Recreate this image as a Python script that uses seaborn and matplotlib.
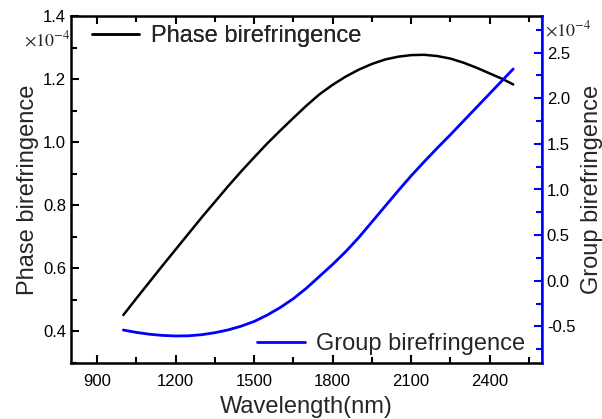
import matplotlib
matplotlib.use("Agg")
import matplotlib.pyplot as plt
import seaborn as sns
import pandas as pd
from matplotlib.ticker import MultipleLocator, FormatStrFormatter
from matplotlib.lines import Line2D

sns.set_theme(style="ticks")
plt.rcParams['font.family'] = ['Liberation Sans', 'DejaVu Sans']

wavelength = [1000, 1050, 1100, 1150, 1200, 1250, 1300, 1350, 1400, 1450,
              1500, 1550, 1600, 1650, 1700, 1750, 1800, 1850, 1900, 1950,
              2000, 2050, 2100, 2150, 2200, 2250, 2300, 2350, 2400, 2450, 2490]
phase_biref = [0.452, 0.505, 0.557, 0.609, 0.660, 0.711, 0.762, 0.811, 0.860, 0.907,
               0.952, 0.996, 1.037, 1.077, 1.116, 1.152, 1.182, 1.208, 1.230, 1.248,
               1.262, 1.271, 1.276, 1.277, 1.273, 1.265, 1.252, 1.236, 1.218, 1.200, 1.183]
group_biref = [-0.539, -0.565, -0.585, -0.598, -0.604, -0.602, -0.590, -0.568, -0.538, -0.497,
               -0.445, -0.375, -0.292, -0.195, -0.080, 0.050, 0.180, 0.320, 0.475, 0.645,
               0.815, 0.985, 1.150, 1.305, 1.455, 1.600, 1.750, 1.900, 2.050, 2.200, 2.320]

df = pd.DataFrame({"wl": wavelength, "phase": phase_biref, "group": group_biref})

fig = plt.figure(figsize=(6.02, 4.19), dpi=100)
ax = fig.add_axes([71/602, 1-363/419, (542-71)/602, (363-16)/419])
ax2 = ax.twinx()

sns.lineplot(data=df, x="wl", y="phase", ax=ax, color="black", linewidth=1.8)
sns.lineplot(data=df, x="wl", y="group", ax=ax2, color="#0000ff", linewidth=2.0)

ax.set_xlim(800, 2600)
ax.set_ylim(0.3, 1.4)
ax2.set_ylim(-0.9, 2.9)

ax.set_xticks([900, 1200, 1500, 1800, 2100, 2400])
ax.xaxis.set_minor_locator(MultipleLocator(150))
ax.yaxis.set_major_locator(MultipleLocator(0.2))
ax.yaxis.set_minor_locator(MultipleLocator(0.1))
ax.yaxis.set_major_formatter(FormatStrFormatter('%.1f'))
ax2.set_yticks([-0.5, 0.0, 0.5, 1.0, 1.5, 2.0, 2.5])
ax2.yaxis.set_minor_locator(MultipleLocator(0.25))
ax2.yaxis.set_major_formatter(FormatStrFormatter('%.1f'))

ax.tick_params(axis='both', which='both', direction='in', top=True, right=False,
               labelsize=12, colors='black', width=1.5)
ax.tick_params(axis='x', which='both', pad=8)
ax.tick_params(which='major', length=6)
ax.tick_params(which='minor', length=4)
ax2.tick_params(axis='y', which='both', direction='in', color='#0000ff',
                labelcolor='black', labelsize=12, width=1.5)
ax2.tick_params(which='major', length=6)
ax2.tick_params(which='minor', length=4)

for s in ['left', 'bottom', 'top']:
    ax.spines[s].set_linewidth(1.8)
    ax.spines[s].set_color('black')
ax2.spines['right'].set_color('#0000ff')
ax2.spines['right'].set_linewidth(1.8)
for s in ['left', 'bottom', 'top']:
    ax2.spines[s].set_visible(False)

ax.set_xlabel("Wavelength(nm)", fontsize=17, labelpad=5)
ax.set_ylabel("Phase birefringence", fontsize=17, labelpad=3)
ax2.set_ylabel("Group birefringence", fontsize=17, labelpad=4)

fig.text(24/602, 1-40/419, r'$\times10^{-4}$', fontsize=13, math_fontfamily='stix',
         ha='left', va='center')
fig.text(545/602, 1-30/419, r'$\times10^{-4}$', fontsize=13, math_fontfamily='stix',
         ha='left', va='center')

h1 = [Line2D([], [], color='black', linewidth=1.8)]
leg1 = ax.legend(h1, ["Phase birefringence"], loc='upper left', frameon=False,
                 fontsize=17, handlelength=2.0, handletextpad=0.5, borderaxespad=0.0,
                 bbox_to_anchor=(0.025, 1.0))
ax.add_artist(leg1)
h2 = [Line2D([], [], color='#0000ff', linewidth=2.0)]
ax2.legend(h2, ["Group birefringence"], loc='lower right', frameon=False,
           fontsize=17, handlelength=2.0, handletextpad=0.5, borderaxespad=0.0,
           bbox_to_anchor=(0.985, -0.005))

fig.savefig("out.png", dpi=100)
